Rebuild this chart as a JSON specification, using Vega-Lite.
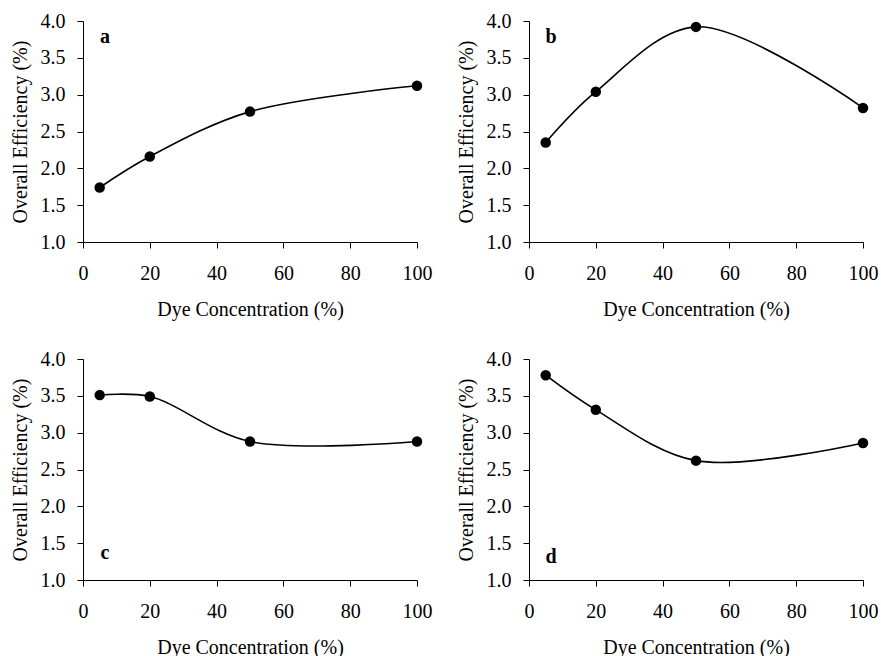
{
  "$schema": "https://vega.github.io/schema/vega-lite/v6.json",
  "background": "white",
  "padding": {"left": 10, "top": 11, "right": 5, "bottom": 5},
  "datasets": {
    "eff": [
      {"panel": "a", "conc": 5, "eff": 1.74},
      {"panel": "a", "conc": 20, "eff": 2.16},
      {"panel": "a", "conc": 50, "eff": 2.77},
      {"panel": "a", "conc": 100, "eff": 3.12},
      {"panel": "b", "conc": 5, "eff": 2.35},
      {"panel": "b", "conc": 20, "eff": 3.04},
      {"panel": "b", "conc": 50, "eff": 3.92},
      {"panel": "b", "conc": 100, "eff": 2.82},
      {"panel": "c", "conc": 5, "eff": 3.51},
      {"panel": "c", "conc": 20, "eff": 3.49},
      {"panel": "c", "conc": 50, "eff": 2.88},
      {"panel": "c", "conc": 100, "eff": 2.88},
      {"panel": "d", "conc": 5, "eff": 3.78},
      {"panel": "d", "conc": 20, "eff": 3.31},
      {"panel": "d", "conc": 50, "eff": 2.62},
      {"panel": "d", "conc": 100, "eff": 2.86}
    ],
    "labels": [
      {"panel": "a", "name": "a"},
      {"panel": "b", "name": "b"},
      {"panel": "c", "name": "c"},
      {"panel": "d", "name": "d"}
    ]
  },
  "columns": 2,
  "bounds": "flush",
  "spacing": {"row": 117, "column": 112},
  "concat": [
    {
      "width": 334, "height": 221,
      "layer": [
        {"data": {"name": "eff"}, "transform": [{"filter": "datum.panel === 'a'"}], "mark": {"type": "line", "interpolate": "catmull-rom", "color": "black", "strokeWidth": 1.6},
         "encoding": {
          "x": {"field": "conc", "type": "quantitative", "scale": {"domain": [0, 100]}, "axis": {"title": "Dye Concentration (%)", "values": [0, 20, 40, 60, 80, 100]}},
          "y": {"field": "eff", "type": "quantitative", "scale": {"domain": [1, 4]}, "axis": {"title": "Overall Efficiency (%)", "values": [1, 1.5, 2, 2.5, 3, 3.5, 4], "format": ".1f"}}}},
        {"data": {"name": "eff"}, "transform": [{"filter": "datum.panel === 'a'"}], "mark": {"type": "point", "filled": true, "color": "black", "opacity": 1, "size": 110},
         "encoding": {
          "x": {"field": "conc", "type": "quantitative", "scale": {"domain": [0, 100]}, "axis": {"title": "Dye Concentration (%)", "values": [0, 20, 40, 60, 80, 100]}},
          "y": {"field": "eff", "type": "quantitative", "scale": {"domain": [1, 4]}, "axis": {"title": "Overall Efficiency (%)", "values": [1, 1.5, 2, 2.5, 3, 3.5, 4], "format": ".1f"}}}},
        {"data": {"name": "labels"}, "transform": [{"filter": "datum.panel === 'a'"}], "mark": {"type": "text", "font": "Liberation Serif", "fontSize": 20, "fontWeight": "bold", "color": "black"}, "encoding": {"text": {"field": "name"}, "x": {"datum": 6.6, "axis": {"title": "Dye Concentration (%)", "values": [0, 20, 40, 60, 80, 100]}}, "y": {"datum": 3.78, "axis": {"title": "Overall Efficiency (%)", "values": [1, 1.5, 2, 2.5, 3, 3.5, 4], "format": ".1f"}}}}
      ]
    },
    {
      "width": 334, "height": 221,
      "layer": [
        {"data": {"name": "eff"}, "transform": [{"filter": "datum.panel === 'b'"}], "mark": {"type": "line", "interpolate": "catmull-rom", "color": "black", "strokeWidth": 1.6},
         "encoding": {
          "x": {"field": "conc", "type": "quantitative", "scale": {"domain": [0, 100]}, "axis": {"title": "Dye Concentration (%)", "values": [0, 20, 40, 60, 80, 100]}},
          "y": {"field": "eff", "type": "quantitative", "scale": {"domain": [1, 4]}, "axis": {"title": "Overall Efficiency (%)", "values": [1, 1.5, 2, 2.5, 3, 3.5, 4], "format": ".1f"}}}},
        {"data": {"name": "eff"}, "transform": [{"filter": "datum.panel === 'b'"}], "mark": {"type": "point", "filled": true, "color": "black", "opacity": 1, "size": 110},
         "encoding": {
          "x": {"field": "conc", "type": "quantitative", "scale": {"domain": [0, 100]}, "axis": {"title": "Dye Concentration (%)", "values": [0, 20, 40, 60, 80, 100]}},
          "y": {"field": "eff", "type": "quantitative", "scale": {"domain": [1, 4]}, "axis": {"title": "Overall Efficiency (%)", "values": [1, 1.5, 2, 2.5, 3, 3.5, 4], "format": ".1f"}}}},
        {"data": {"name": "labels"}, "transform": [{"filter": "datum.panel === 'b'"}], "mark": {"type": "text", "font": "Liberation Serif", "fontSize": 20, "fontWeight": "bold", "color": "black"}, "encoding": {"text": {"field": "name"}, "x": {"datum": 6.6, "axis": {"title": "Dye Concentration (%)", "values": [0, 20, 40, 60, 80, 100]}}, "y": {"datum": 3.78, "axis": {"title": "Overall Efficiency (%)", "values": [1, 1.5, 2, 2.5, 3, 3.5, 4], "format": ".1f"}}}}
      ]
    },
    {
      "width": 334, "height": 221,
      "layer": [
        {"data": {"name": "eff"}, "transform": [{"filter": "datum.panel === 'c'"}], "mark": {"type": "line", "interpolate": "catmull-rom", "color": "black", "strokeWidth": 1.6},
         "encoding": {
          "x": {"field": "conc", "type": "quantitative", "scale": {"domain": [0, 100]}, "axis": {"title": "Dye Concentration (%)", "values": [0, 20, 40, 60, 80, 100]}},
          "y": {"field": "eff", "type": "quantitative", "scale": {"domain": [1, 4]}, "axis": {"title": "Overall Efficiency (%)", "values": [1, 1.5, 2, 2.5, 3, 3.5, 4], "format": ".1f"}}}},
        {"data": {"name": "eff"}, "transform": [{"filter": "datum.panel === 'c'"}], "mark": {"type": "point", "filled": true, "color": "black", "opacity": 1, "size": 110},
         "encoding": {
          "x": {"field": "conc", "type": "quantitative", "scale": {"domain": [0, 100]}, "axis": {"title": "Dye Concentration (%)", "values": [0, 20, 40, 60, 80, 100]}},
          "y": {"field": "eff", "type": "quantitative", "scale": {"domain": [1, 4]}, "axis": {"title": "Overall Efficiency (%)", "values": [1, 1.5, 2, 2.5, 3, 3.5, 4], "format": ".1f"}}}},
        {"data": {"name": "labels"}, "transform": [{"filter": "datum.panel === 'c'"}], "mark": {"type": "text", "font": "Liberation Serif", "fontSize": 20, "fontWeight": "bold", "color": "black"}, "encoding": {"text": {"field": "name"}, "x": {"datum": 6.6, "axis": {"title": "Dye Concentration (%)", "values": [0, 20, 40, 60, 80, 100]}}, "y": {"datum": 1.37, "axis": {"title": "Overall Efficiency (%)", "values": [1, 1.5, 2, 2.5, 3, 3.5, 4], "format": ".1f"}}}}
      ]
    },
    {
      "width": 334, "height": 221,
      "layer": [
        {"data": {"name": "eff"}, "transform": [{"filter": "datum.panel === 'd'"}], "mark": {"type": "line", "interpolate": "catmull-rom", "color": "black", "strokeWidth": 1.6},
         "encoding": {
          "x": {"field": "conc", "type": "quantitative", "scale": {"domain": [0, 100]}, "axis": {"title": "Dye Concentration (%)", "values": [0, 20, 40, 60, 80, 100]}},
          "y": {"field": "eff", "type": "quantitative", "scale": {"domain": [1, 4]}, "axis": {"title": "Overall Efficiency (%)", "values": [1, 1.5, 2, 2.5, 3, 3.5, 4], "format": ".1f"}}}},
        {"data": {"name": "eff"}, "transform": [{"filter": "datum.panel === 'd'"}], "mark": {"type": "point", "filled": true, "color": "black", "opacity": 1, "size": 110},
         "encoding": {
          "x": {"field": "conc", "type": "quantitative", "scale": {"domain": [0, 100]}, "axis": {"title": "Dye Concentration (%)", "values": [0, 20, 40, 60, 80, 100]}},
          "y": {"field": "eff", "type": "quantitative", "scale": {"domain": [1, 4]}, "axis": {"title": "Overall Efficiency (%)", "values": [1, 1.5, 2, 2.5, 3, 3.5, 4], "format": ".1f"}}}},
        {"data": {"name": "labels"}, "transform": [{"filter": "datum.panel === 'd'"}], "mark": {"type": "text", "font": "Liberation Serif", "fontSize": 20, "fontWeight": "bold", "color": "black"}, "encoding": {"text": {"field": "name"}, "x": {"datum": 6.6, "axis": {"title": "Dye Concentration (%)", "values": [0, 20, 40, 60, 80, 100]}}, "y": {"datum": 1.31, "axis": {"title": "Overall Efficiency (%)", "values": [1, 1.5, 2, 2.5, 3, 3.5, 4], "format": ".1f"}}}}
      ]
    }
  ],
  "config": {
    "view": {"stroke": null},
    "font": "Liberation Serif",
    "axisX": {"labelPadding": 15, "titlePadding": 16},
    "axisY": {"labelPadding": 12, "titlePadding": 10},
    "axis": {
      "grid": false,
      "domainColor": "black",
      "tickColor": "black",
      "labelColor": "black",
      "titleColor": "black",
      "tickSize": 6,
      "labelFont": "Liberation Serif",
      "titleFont": "Liberation Serif",
      "labelFontSize": 20,
      "titleFontSize": 20,
      "titleFontWeight": "normal",
      "labelFlush": false,
      "labelOverlap": false
    }
  }
}
